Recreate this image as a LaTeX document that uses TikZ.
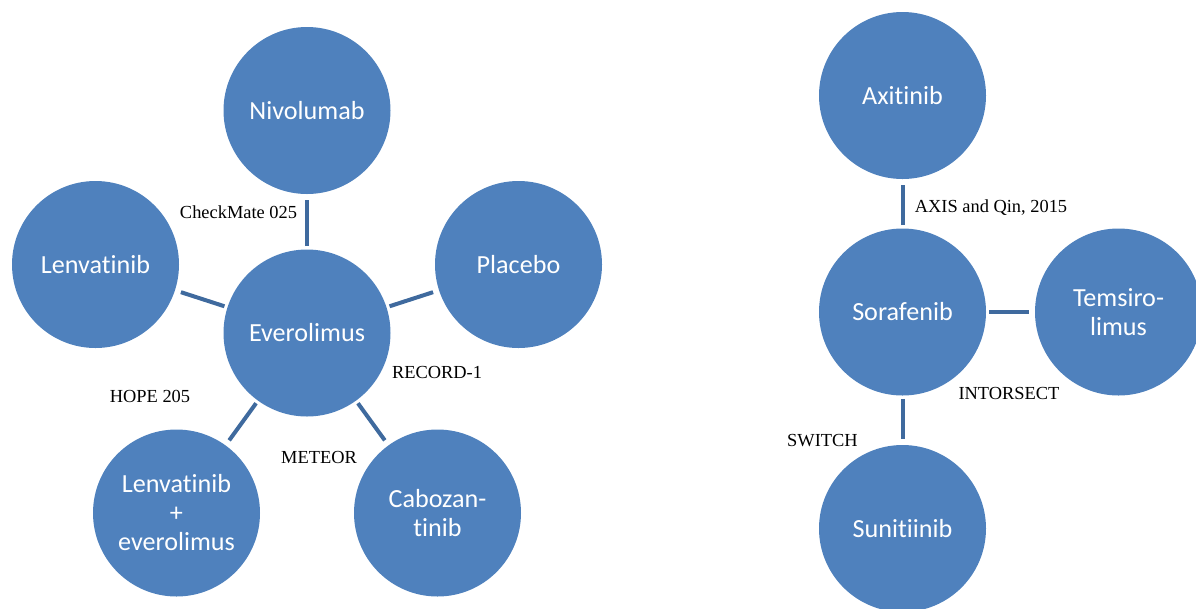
\documentclass[tikz,border=0pt]{standalone}
\usepackage{fontspec}
\setmainfont{Liberation Serif}
\newfontfamily\drugfont[Ligatures={NoCommon,NoContextual}]{Carlito}
\definecolor{rccblue}{HTML}{4F81BD}
\definecolor{rcclink}{HTML}{3F6A9E}
\tikzset{
  drug/.style={circle, fill=rccblue, text=white, minimum size=125.25pt, inner sep=0pt, align=center, font=\drugfont\fontsize{19.6}{21.75}\selectfont},
  trial/.style={inner sep=0pt, font=\fontsize{13.8}{16}\selectfont},
  link/.style={line width=3pt, color=rcclink, shorten <=2.25pt, shorten >=4.5pt},
}

\begin{document}
\begin{tikzpicture}[x=0.75pt,y=-0.75pt]
  \useasboundingbox (0,0) rectangle (1196,608);
  % everolimus network
  \node[drug] (evero) at (307,333) {Everolimus};
  \node[drug] (nivo) at (307,110.5) {Nivolumab};
  \node[drug] (lenva) at (95.5,264.5) {Lenvatinib};
  \node[drug] (placebo) at (518.5,264.5) {Placebo};
  \node[drug] (lenev) at (176.5,513) {Lenvatinib\\+\\everolimus};
  \node[drug] (cabo) at (437.5,513) {Cabozan-\\tinib};
  \draw[link] (evero) -- (nivo);
  \draw[link] (evero) -- (lenva);
  \draw[link] (evero) -- (placebo);
  \draw[link] (evero) -- (lenev);
  \draw[link] (evero) -- (cabo);
  \node[trial] (checkmate) at (238.5,212) {CheckMate 025};
  \node[trial] (record) at (437,372) {RECORD-1};
  \node[trial] (hope) at (150,396) {HOPE 205};
  \node[trial] (meteor) at (319,457) {METEOR};
  % sorafenib network
  \node[drug] (sora) at (902.5,312) {Sorafenib};
  \node[drug] (axi) at (902.5,95.5) {Axitinib};
  \node[drug] (temsi) at (1118.5,312) {Temsiro-\\limus};
  \node[drug] (suni) at (902.5,528.5) {Sunitiinib};
  \draw[link] (sora) -- (axi);
  \draw[link] (sora) -- (temsi);
  \draw[link] (sora) -- (suni);
  \node[trial] (axis) at (991,208) {AXIS and Qin, 2015};
  \node[trial] (intorsect) at (1009,393) {INTORSECT};
  \node[trial] (switch) at (822.5,441) {SWITCH};
\end{tikzpicture}
\end{document}
